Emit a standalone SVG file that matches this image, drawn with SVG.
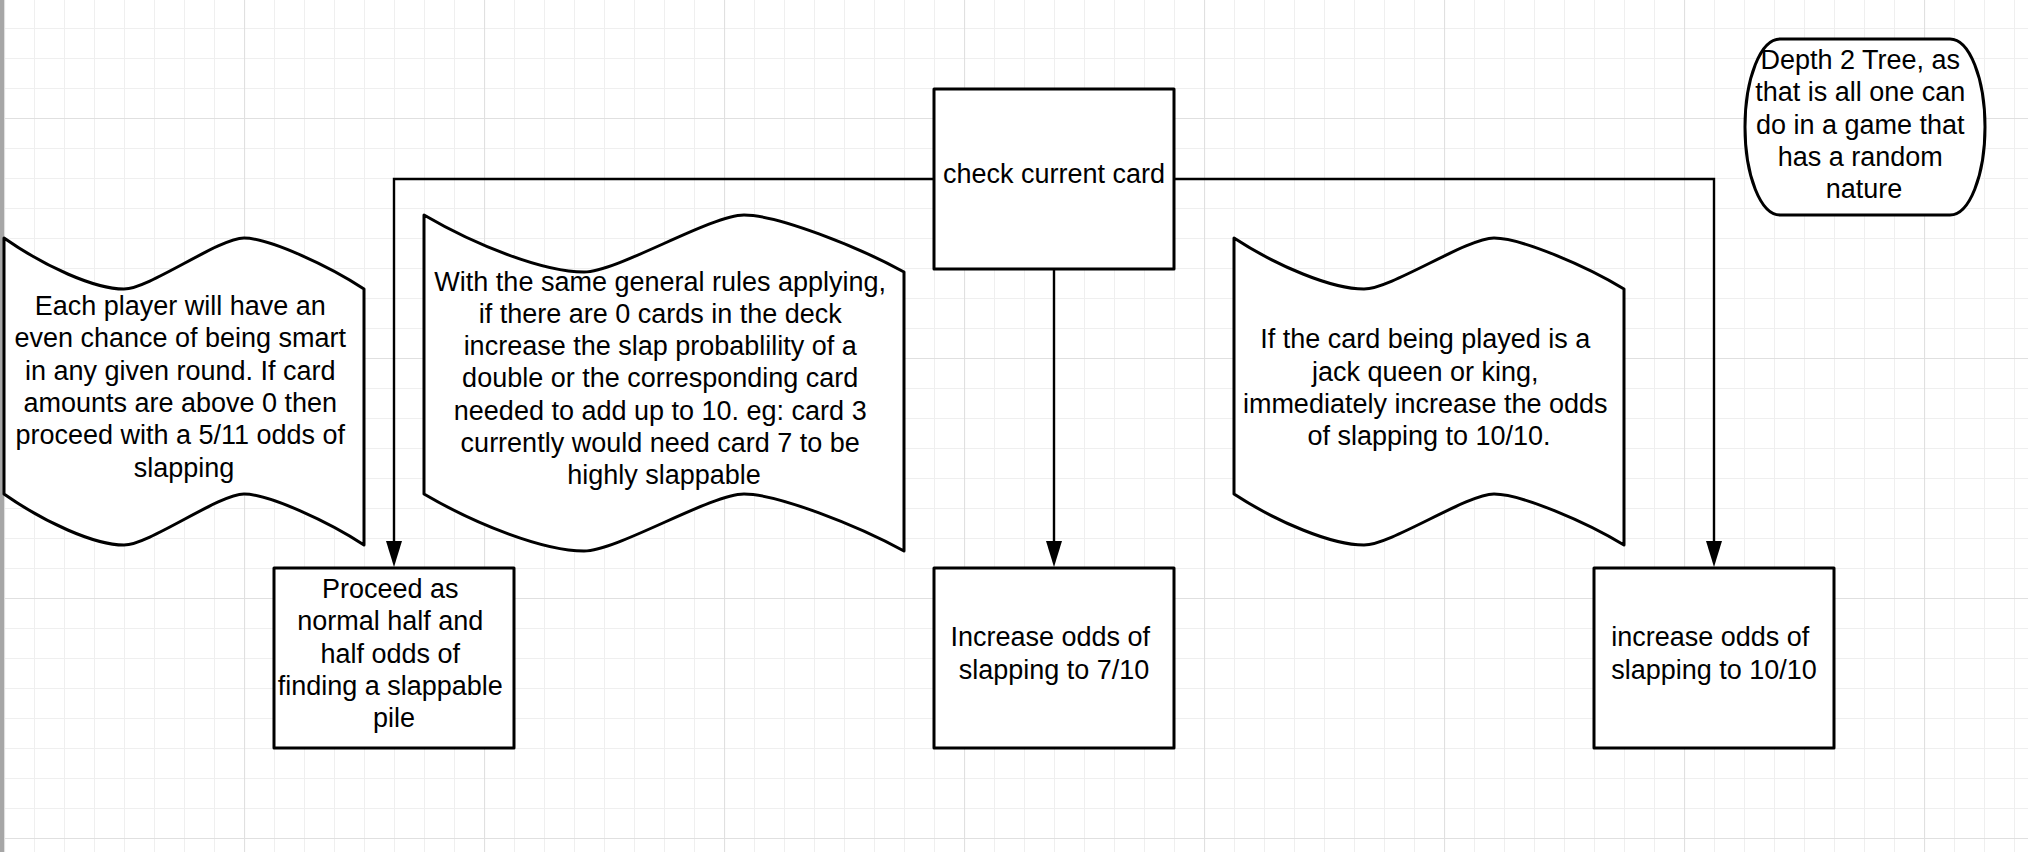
<svg xmlns="http://www.w3.org/2000/svg" width="2028" height="852" viewBox="0 0 2028 852">
  <defs>
    <pattern id="gMinor" x="4" y="28" width="30" height="30" patternUnits="userSpaceOnUse">
      <path d="M0.5 0V30M0 0.5H30" stroke="#efefef" stroke-width="1" fill="none"/>
    </pattern>
    <pattern id="gMajor" x="4" y="118" width="240" height="240" patternUnits="userSpaceOnUse">
      <path d="M0.5 0V240M0 0.5H240" stroke="#e0e0e0" stroke-width="1.2" fill="none"/>
    </pattern>
    <marker id="arrow" viewBox="0 0 26 16" refX="14" refY="8" markerWidth="26" markerHeight="16" markerUnits="userSpaceOnUse" orient="auto">
      <path d="M0,0 L26,8 L0,16 Z" fill="#000"/>
    </marker>
    <style>
      .shape { fill: #fff; stroke: #000; stroke-width: 3; stroke-linejoin: round; }
      .conn { fill: none; stroke: #000; stroke-width: 2.4; }
      .lbl { font-family: "Liberation Sans", Arial, sans-serif; font-size: 27px; fill: #000; text-anchor: middle; }
    </style>
  </defs>

  <rect x="0" y="0" width="2028" height="852" fill="#fff"/>
  <rect x="0" y="0" width="2028" height="852" fill="url(#gMinor)"/>
  <rect x="0" y="0" width="2028" height="852" fill="url(#gMajor)"/>
  <rect x="0" y="0" width="4" height="852" fill="#a6a6a6"/>

  <g id="connectors">
    <path class="conn" d="M934,179 H394 V555" marker-end="url(#arrow)"/>
    <path class="conn" d="M1174,179 H1714 V555" marker-end="url(#arrow)"/>
    <path class="conn" d="M1054,269 V555" marker-end="url(#arrow)"/>
  </g>

  <g id="check-current-card">
    <rect class="shape" x="934" y="89" width="240" height="180"/>
    <text class="lbl" x="1054" y="183">check current card</text>
  </g>

  <g id="note-each-player">
    <path class="shape" d="M4,238 C44,266 94,289 124,289 C149,289 219,238 244,238 C269,238 329,266 364,289 L364,545 C329,522 269,494 244,494 C219,494 149,545 124,545 C94,545 44,522 4,494 Z"/>
    <text class="lbl">
      <tspan x="184" y="315">Each player will have an</tspan>
      <tspan x="184" y="347.3">even chance of being smart</tspan>
      <tspan x="184" y="379.6">in any given round. If card</tspan>
      <tspan x="184" y="411.9">amounts are above 0 then</tspan>
      <tspan x="184" y="444.2">proceed with a 5/11 odds of</tspan>
      <tspan x="184" y="476.5">slapping</tspan>
    </text>
  </g>

  <g id="note-same-rules">
    <path class="shape" d="M424,215 C477,246 544,272 584,272 C617.3,272 710.7,215 744,215 C777.3,215 857.3,246.3 904,272 L904,551 C857.3,525.3 777.3,494 744,494 C710.7,494 617.3,551 584,551 C544,551 477,525 424,494 Z"/>
    <text class="lbl">
      <tspan x="664" y="290.5">With the same general rules applying,</tspan>
      <tspan x="664" y="322.8">if there are 0 cards in the deck</tspan>
      <tspan x="664" y="355.1">increase the slap probablility of a</tspan>
      <tspan x="664" y="387.4">double or the corresponding card</tspan>
      <tspan x="664" y="419.7">needed to add up to 10. eg: card 3</tspan>
      <tspan x="664" y="452">currently would need card 7 to be</tspan>
      <tspan x="664" y="484.3">highly slappable</tspan>
    </text>
  </g>

  <g id="note-face-card">
    <path class="shape" d="M1234,238 C1277,266 1331.5,289 1364,289 C1391.1,289 1466.9,238 1494,238 C1521.1,238 1586.1,266 1624,289 L1624,545 C1586.1,522 1521.1,494 1494,494 C1466.9,494 1391.1,545 1364,545 C1331.5,545 1277,522 1234,494 Z"/>
    <text class="lbl">
      <tspan x="1429" y="348.3">If the card being played is a</tspan>
      <tspan x="1429" y="380.6">jack queen or king,</tspan>
      <tspan x="1429" y="412.9">immediately increase the odds</tspan>
      <tspan x="1429" y="445.2">of slapping to 10/10.</tspan>
    </text>
  </g>

  <g id="note-depth">
    <path class="shape" d="M1780,39 L1950,39 A35,88 0 0 1 1950,215 L1780,215 A35,88 0 0 1 1780,39 Z"/>
    <text class="lbl">
      <tspan x="1864" y="69">Depth 2 Tree, as</tspan>
      <tspan x="1864" y="101.3">that is all one can</tspan>
      <tspan x="1864" y="133.5">do in a game that</tspan>
      <tspan x="1864" y="165.7">has a random</tspan>
      <tspan x="1864" y="198">nature</tspan>
    </text>
  </g>

  <g id="proceed-normal">
    <rect class="shape" x="274" y="568" width="240" height="180"/>
    <text class="lbl">
      <tspan x="394" y="598">Proceed as</tspan>
      <tspan x="394" y="630.3">normal half and</tspan>
      <tspan x="394" y="662.6">half odds of</tspan>
      <tspan x="394" y="694.9">finding a slappable</tspan>
      <tspan x="394" y="727.2">pile</tspan>
    </text>
  </g>

  <g id="increase-7">
    <rect class="shape" x="934" y="568" width="240" height="180"/>
    <text class="lbl">
      <tspan x="1054" y="646.3">Increase odds of</tspan>
      <tspan x="1054" y="678.6">slapping to 7/10</tspan>
    </text>
  </g>

  <g id="increase-10">
    <rect class="shape" x="1594" y="568" width="240" height="180"/>
    <text class="lbl">
      <tspan x="1714" y="646.3">increase odds of</tspan>
      <tspan x="1714" y="678.6">slapping to 10/10</tspan>
    </text>
  </g>
</svg>
